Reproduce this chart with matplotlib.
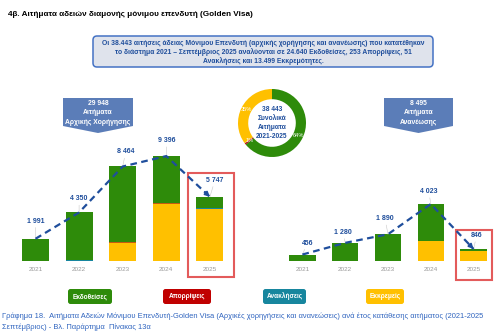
"""Golden Visa applications per year: initial grants vs renewals, with status split."""

import matplotlib

matplotlib.use("Agg")
import matplotlib.pyplot as plt
from matplotlib.patches import FancyBboxPatch, Polygon, Rectangle

plt.rcParams["font.family"] = ["Liberation Sans", "DejaVu Sans"]

# ----------------------------------------------------------------------
# Data
#
years = ["2021", "2022", "2023", "2024", "2025"]

# initial grant applications, by status
initial_totals = [1991, 4350, 8464, 9396, 5747]
initial_issued = [1986, 4305, 6769, 4206, 1042]
initial_rejected = [5, 40, 85, 75, 0]
initial_revoked = [0, 5, 10, 15, 5]
initial_pending = [0, 0, 1600, 5100, 4700]

# renewal applications, by status
renewal_totals = [456, 1280, 1890, 4023, 846]
renewal_issued = [453, 1268, 1871, 2600, 140]
renewal_rejected = [3, 10, 15, 15, 5]
renewal_revoked = [0, 2, 4, 8, 2]
renewal_pending = [0, 0, 0, 1400, 699]

status_labels = ["Εκδοθείσες", "Απορρίψεις", "Ανακλήσεις", "Εκκρεμείς"]
status_totals = [24640, 253, 51, 13499]
grand_total = 38443
initial_sum = 29948
renewal_sum = 8495

GREEN = "#2e8b0a"
RED = "#c00000"
TEAL = "#17869e"
YELLOW = "#ffc000"
NAVY = "#1f4e9c"
STATUS_COLORS = [GREEN, RED, TEAL, YELLOW]

W, H = 500, 334
fig = plt.figure(figsize=(W / 100, H / 100), dpi=100)


def px_axes(x0, y0, x1, y1, **kw):
    """Axes placed by pixel box (top-left origin)."""
    return fig.add_axes([x0 / W, 1 - y1 / H, (x1 - x0) / W, (y1 - y0) / H], **kw)


def fmt(v):
    return f"{v:,}".replace(",", " ")


def stacked_panel(ax, totals, issued, rejected, revoked, pending, ymax, offsets):
    x = list(range(len(years)))
    bottom = [0] * len(x)
    # thin rejection band reads brownish between the yellow and green stacks
    for vals, col in [(pending, YELLOW), (rejected, "#c55a11"), (revoked, TEAL), (issued, GREEN)]:
        ax.bar(x, vals, bottom=bottom, width=0.62, color=col, edgecolor="none")
        bottom = [b + v for b, v in zip(bottom, vals)]

    # dashed trend across bar tops, arrow into the last year
    ax.plot(x, totals, color=NAVY, lw=1.6, dashes=(3, 2), solid_capstyle="butt", zorder=4)
    tail = (x[-1] - 0.12 * (x[-1] - x[-2]), totals[-1] - 0.12 * (totals[-1] - totals[-2]))
    ax.annotate("", xy=(x[-1], totals[-1]), xytext=tail,
                arrowprops=dict(arrowstyle="-|>", color=NAVY, lw=1.2,
                                mutation_scale=7, shrinkA=0, shrinkB=0), zorder=5)

    for xi, t, (dx, dy) in zip(x, totals, offsets):
        ax.annotate(fmt(t), xy=(xi, t), xytext=(dx, dy), textcoords="offset pixels",
                    ha="center", va="bottom", fontsize=5, fontweight="bold", color=NAVY,
                    arrowprops=dict(arrowstyle="-", color="#c8c8c8", lw=0.4,
                                    shrinkA=0, shrinkB=0))

    ax.set_xlim(-0.5, len(x) - 0.5)
    ax.set_ylim(0, ymax)
    ax.set_xticks(x, years)
    ax.tick_params(axis="x", length=0, pad=4, labelsize=4.6, labelcolor="#9a9a9a")
    ax.set_yticks([])
    for s in ax.spines.values():
        s.set_visible(False)
    ax.patch.set_alpha(0)


# ----------------------------------------------------------------------
# Decoration layer in pixel coordinates
#
deco = px_axes(0, 0, W, H, zorder=0)
deco.set_xlim(0, W)
deco.set_ylim(H, 0)
deco.axis("off")

deco.text(8, 14, "4β. Αιτήματα αδειών διαμονής μόνιμου επενδυτή (Golden Visa)",
          fontsize=5.9, fontweight="bold", color="black", va="center")

deco.add_patch(FancyBboxPatch((93, 36), 340, 31, boxstyle="round,pad=0,rounding_size=4",
                              fc="#dfe3ec", ec="#4472c4", lw=1.1))
summary = [
    "Οι 38.443 αιτήσεις άδειας Μόνιμου Επενδυτή (αρχικής χορήγησης και ανανέωσης) που κατατέθηκαν",
    "το διάστημα 2021 – Σεπτέμβριος 2025 αναλύονται σε 24.640 Εκδοθείσες, 253 Απορρίψεις, 51",
    "Ανακλήσεις και 13.499 Εκκρεμότητες.",
]
for yy, line in zip([43.5, 52.5, 61.5], summary):
    deco.text(263, yy, line, fontsize=4.9, fontweight="bold", color=NAVY,
              ha="center", va="center")

# callout labels over each panel
for (x0, x1), lines in [((63, 133), [fmt(initial_sum), "Αιτήματα", "Αρχικής Χορήγησης"]),
                        ((384, 453), [fmt(renewal_sum), "Αιτήματα", "Ανανέωσης"])]:
    xc = (x0 + x1) / 2
    deco.add_patch(Polygon([(x0, 98), (x1, 98), (x1, 126), (xc, 133), (x0, 126)],
                           closed=True, fc="#5b7db8", ec="none"))
    for yy, line in zip([103.5, 113, 122], lines):
        deco.text(xc, yy, line, fontsize=4.9, fontweight="bold", color="white",
                  ha="center", va="center")

# highlight frames around the partial year
for x0, y0, x1, y1 in [(188, 173, 234, 277), (456, 230, 492, 280)]:
    deco.add_patch(Rectangle((x0, y0), x1 - x0, y1 - y0, fill=False,
                             ec="#e35b5b", lw=1.5))

# status buttons
for label, col, (bx, bw) in zip(status_labels, STATUS_COLORS,
                                [(68, 44), (163, 48), (263, 43), (366, 38)]):
    deco.add_patch(FancyBboxPatch((bx, 289), bw, 15, boxstyle="round,pad=0,rounding_size=2.5",
                                  fc=col, ec="none"))
    deco.text(bx + bw / 2, 296.5, label, fontsize=4.7, fontweight="bold", color="white",
              ha="center", va="center")

caption = [
    "Γράφημα 18.  Αιτήματα Αδειών Μόνιμου Επενδυτή-Golden Visa (Αρχικές χορηγήσεις και ανανεώσεις) ανά έτος κατάθεσης αιτήματος (2021-2025",
    "Σεπτέμβριος) - Βλ. Παράρτημα  Πίνακας 13α",
]
for yy, line in zip([316, 327], caption):
    deco.text(2, yy, line, fontsize=5.4, color="#2f64bf", va="center")

# ----------------------------------------------------------------------
# Bar panels
#
ax_init = px_axes(13.7, 127, 231.7, 261, zorder=1)
stacked_panel(ax_init, initial_totals, initial_issued, initial_rejected, initial_revoked,
              initial_pending, 12000,
              [(0, 14), (0, 10), (3, 11), (0, 12), (5, 13)])

ax_ren = px_axes(281, 176, 495, 261, zorder=1)
stacked_panel(ax_ren, renewal_totals, renewal_issued, renewal_rejected, renewal_revoked,
              renewal_pending, 6000,
              [(5, 8), (-2, 7), (-3, 12), (-2, 9), (3, 10)])

# ----------------------------------------------------------------------
# Donut of overall status shares
#
ax_pie = px_axes(238, 89, 306, 157, zorder=1)
wedges, _, pct_texts = ax_pie.pie(
    status_totals, colors=STATUS_COLORS, startangle=90, counterclock=False,
    wedgeprops=dict(width=0.3, edgecolor="none"),
    autopct=lambda p: f"{p:.0f}%" if p >= 0.5 else "", pctdistance=0.85,
    textprops=dict(fontsize=4.1, color="white"))
ax_pie.set_xlim(-1, 1)
ax_pie.set_ylim(-1, 1)
ax_pie.set_aspect("equal")
ax_pie.text(0, 0, f"{fmt(grand_total)}\nΣυνολικά\nΑιτήματα\n2021-2025", ha="center",
            va="center", fontsize=4.8, fontweight="bold", color=NAVY, linespacing=1.35)

fig.savefig("out.png", dpi=100)
